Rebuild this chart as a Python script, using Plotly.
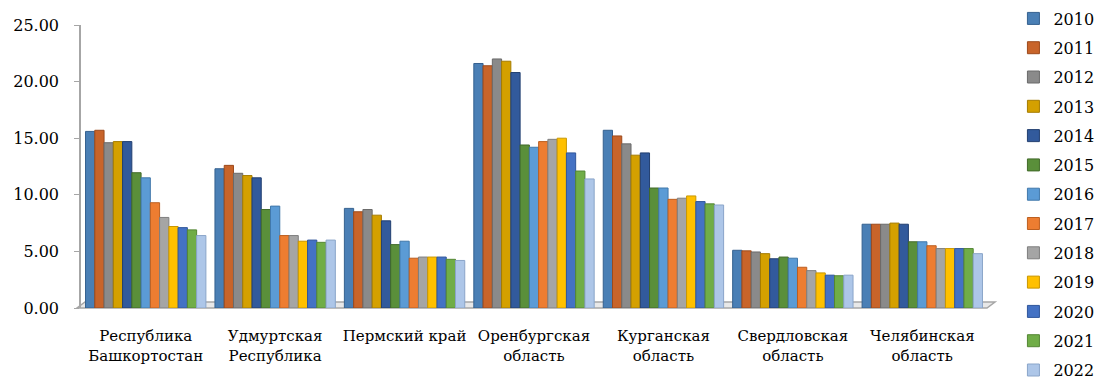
import plotly.graph_objects as go

regions = ["Республика<br>Башкортостан", "Удмуртская<br>Республика", "Пермский край",
           "Оренбургская<br>область", "Курганская<br>область", "Свердловская<br>область",
           "Челябинская<br>область"]
years = ["2010", "2011", "2012", "2013", "2014", "2015", "2016", "2017", "2018",
         "2019", "2020", "2021", "2022"]

# values per year, one per region (same order as regions)
v2010 = [15.6, 12.3, 8.8, 21.6, 15.7, 5.1, 7.4]
v2011 = [15.7, 12.6, 8.5, 21.4, 15.2, 5.05, 7.4]
v2012 = [14.6, 11.9, 8.7, 22.0, 14.5, 4.95, 7.4]
v2013 = [14.7, 11.7, 8.2, 21.8, 13.5, 4.8, 7.5]
v2014 = [14.7, 11.5, 7.7, 20.8, 13.7, 4.35, 7.4]
v2015 = [11.95, 8.7, 5.6, 14.4, 10.6, 4.5, 5.85]
v2016 = [11.5, 9.0, 5.9, 14.2, 10.6, 4.4, 5.85]
v2017 = [9.3, 6.4, 4.4, 14.7, 9.6, 3.6, 5.5]
v2018 = [8.0, 6.4, 4.5, 14.9, 9.7, 3.3, 5.25]
v2019 = [7.2, 5.9, 4.5, 15.0, 9.9, 3.1, 5.25]
v2020 = [7.1, 6.0, 4.5, 13.7, 9.4, 2.9, 5.25]
v2021 = [6.9, 5.8, 4.3, 12.1, 9.2, 2.85, 5.25]
v2022 = [6.4, 6.0, 4.2, 11.4, 9.1, 2.9, 4.8]

series = [v2010, v2011, v2012, v2013, v2014, v2015, v2016, v2017, v2018,
          v2019, v2020, v2021, v2022]
colors = ["#4a7fb5", "#c8642a", "#8a8a8a", "#d4a000", "#325a9c", "#5a8f3a",
          "#5b9bd5", "#ed7d31", "#a5a5a5", "#ffc000", "#4472c4", "#70ad47",
          "#adc6e8"]
edges = ["#35618f", "#9c4a1c", "#6a6a6a", "#a57c00", "#223f70", "#416a29",
         "#4178aa", "#bc5f20", "#7f7f7f", "#c99700", "#30569b", "#548634",
         "#8aa5c9"]

fig = go.Figure()
for yr, vals, c, e in zip(years, series, colors, edges):
    fig.add_trace(go.Bar(
        x=regions, y=vals, name=yr, legendgroup=yr,
        marker=dict(color=c, line=dict(color=e, width=1)),
    ))

font_family = "DejaVu Serif, serif"

# pseudo-3D floor under the bars (paper coordinates)
fig.add_shape(
    type="path", xref="paper", yref="paper", layer="below",
    path="M -0.0044 0 L 1.0 0 L 1.0088 0.0212 L 0.0044 0.0212 Z",
    fillcolor="#e8e8e8", line=dict(color="#a6a6a6", width=1.5),
)

fig.update_layout(
    width=1095, height=381,
    margin=dict(l=81, r=108, t=25, b=73, autoexpand=False),
    paper_bgcolor="white", plot_bgcolor="white",
    barmode="group", bargap=0.07, bargroupgap=0.0,
    font=dict(family=font_family, color="black", size=15),
    legend=dict(
        xref="container", yref="paper",
        x=0.9255, xanchor="left", y=1.083, yanchor="top",
        font=dict(family=font_family, size=16, color="black"),
        traceorder="grouped", tracegroupgap=5.5,
        itemwidth=30, bgcolor="rgba(0,0,0,0)",
        maxheight=440,
    ),
    showlegend=True,
)

fig.update_xaxes(
    showline=False, ticks="", showgrid=False,
    tickfont=dict(family=font_family, size=15, color="black"),
    ticklabelstandoff=17,
)
fig.update_yaxes(
    range=[0, 25], dtick=5, tickformat=".2f",
    showline=True, linecolor="#a6a6a6", linewidth=1.5,
    ticks="outside", ticklen=5, tickcolor="#a6a6a6",
    showgrid=False, zeroline=False,
    tickfont=dict(family=font_family, size=16, color="black"),
    ticklabelstandoff=12,
)

fig.write_html("out.html", post_script="document.body.style.margin='0px';",
               config={"displayModeBar": False})
